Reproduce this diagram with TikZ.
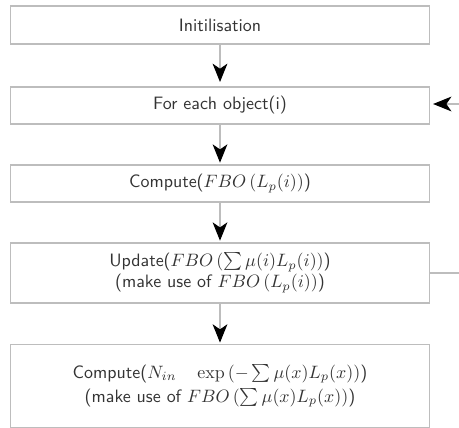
\documentclass[tikz,border=0pt]{standalone}
\usepackage{amsmath}
\usepackage{tikz}
\usetikzlibrary{arrows.meta, positioning}
\definecolor{edge}{HTML}{BDBDBD}
\definecolor{ink}{HTML}{333333}

\begin{document}
\begin{tikzpicture}[
  x=0.0196cm, y=-0.0196cm,
  box/.style={draw=edge, rectangle, line width=0.6pt, minimum width=8.23cm, align=center, text=ink, font=\sffamily},
  flow/.style={draw=edge, line width=0.6pt},
  >={Stealth[length=3.6mm, width=2.9mm, inset=1mm, black]}
]
\useasboundingbox (0,0) rectangle (459,428);

\node[box, minimum height=0.745cm] (init) at (220,25) {Initilisation};
\node[box, minimum height=0.725cm] (object) at (220,105.5) {For each object(i)};
\node[box, minimum height=0.725cm] (fbo) at (220,183.5) {Compute($FBO\,(L_p(i))$)};
\node[box, minimum height=1.176cm] (update) at (220,273) {Update($FBO\,(\sum\mu(i)L_p(i))$)\\(make use of $FBO\,(L_p(i))$)};
\node[box, minimum height=1.61cm] (result) at (220,386) {Compute($N_{in}\quad\exp\,(-\sum\mu(x)L_p(x))$)\\[1.5pt](make use of $FBO\,(\sum\mu(x)L_p(x))$)};

\coordinate (loopin) at (459,104);
\coordinate (loopout) at (459,273);

\draw[flow, ->, shorten >=2.5pt] (init) -- (object);
\draw[flow, ->, shorten >=1pt] (object) -- (fbo);
\draw[flow, ->, shorten >=1pt] (fbo) -- (update);
\draw[flow, ->, shorten >=1pt] (update) -- (result);
\draw[flow, ->, shorten >=1.5pt] (loopin) -- (object.east |- loopin);
\draw[flow] (update.east |- loopout) -- (loopout);
\end{tikzpicture}
\end{document}
